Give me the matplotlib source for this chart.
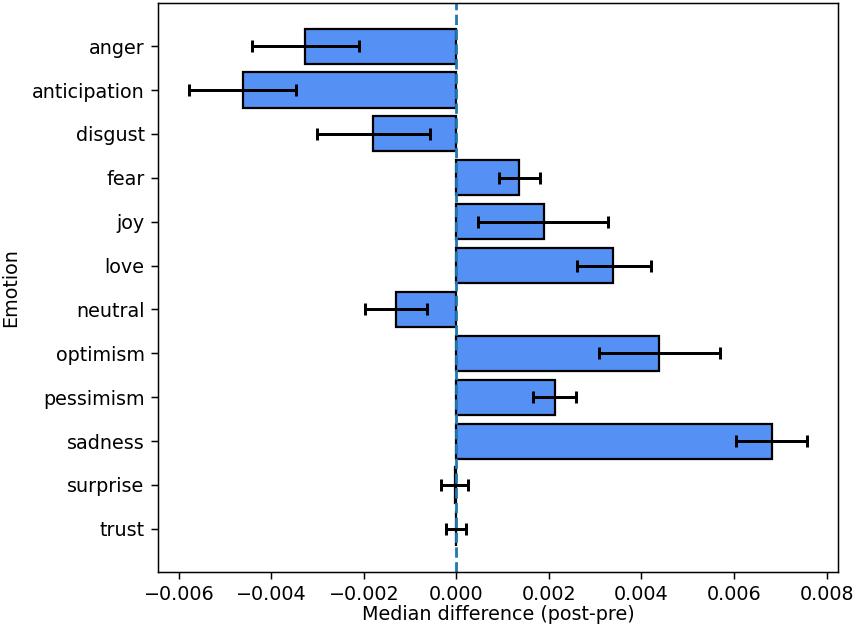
import matplotlib
matplotlib.use("Agg")
import matplotlib.pyplot as plt

# Emociones (de arriba hacia abajo)
emociones = ["anger", "anticipation", "disgust", "fear", "joy", "love",
             "neutral", "optimism", "pessimism", "sadness", "surprise", "trust"]

# Diferencia de medianas (post - pre)
medianas = [-0.003265, -0.00462, -0.001795, 0.001362, 0.001888, 0.003395,
            -0.001305, 0.004389, 0.002133, 0.006811, -0.00004, -0.00001]

# Centro y semiancho de las barras de error
centro_err = [-0.003265, -0.00463, -0.001791, 0.001358, 0.001877, 0.003398,
              -0.001304, 0.004390, 0.002126, 0.006815, -0.00004, -0.00001]
semi_err = [0.001165, 0.00116, 0.001214, 0.000443, 0.001409, 0.000798,
            0.000677, 0.001305, 0.000469, 0.000768, 0.00030, 0.00021]

plt.rcParams["font.size"] = 10.3

dpi = 134
fig, ax = plt.subplots(figsize=(857 / dpi, 634 / dpi), dpi=dpi)

pos = list(range(len(emociones)))
ax.barh(pos, medianas, height=0.8, color="#5591f5", edgecolor="black", linewidth=1.2)
ax.errorbar(centro_err, pos, xerr=semi_err, fmt="none", ecolor="black",
            elinewidth=1.6, capsize=3, capthick=1.6)
ax.axvline(0, linestyle="--", color="tab:blue", linewidth=1.5)

ax.set_yticks(pos)
ax.set_yticklabels(emociones)
ax.invert_yaxis()
ax.set_xlabel("Median difference (post-pre)", labelpad=0.5)
ax.set_ylabel("Emotion")
ax.yaxis.set_label_coords(-0.202, 0.5)

fig.subplots_adjust(left=0.184, right=0.978, top=0.9957, bottom=0.0973)
fig.savefig("out.png", dpi=dpi)
